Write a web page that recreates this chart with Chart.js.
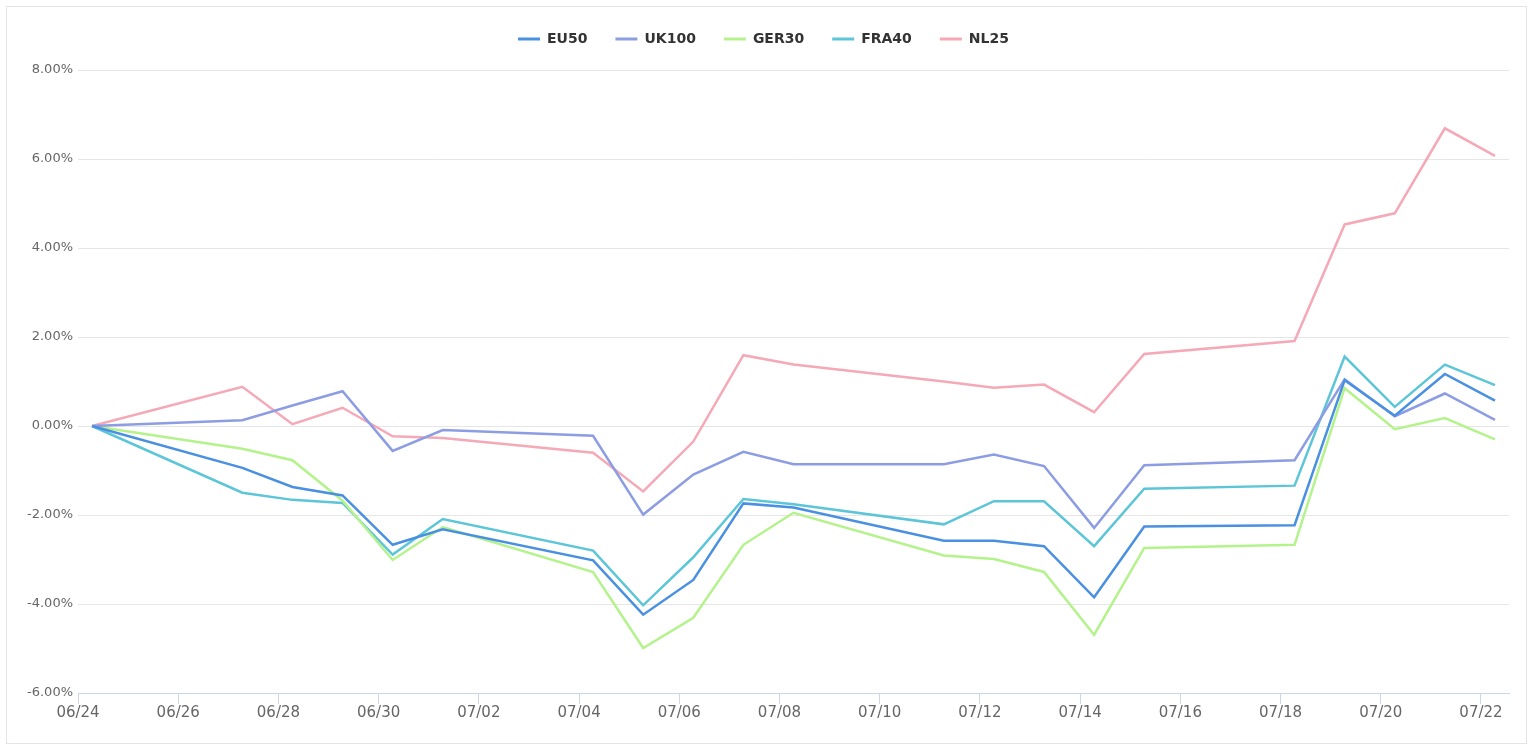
<!DOCTYPE html>
<html>
<head>
<meta charset="utf-8">
<script src="https://cdn.jsdelivr.net/npm/chart.js@4.4.1/dist/chart.umd.min.js"></script>
<style>
  html, body { margin: 0; padding: 0; background: #ffffff; overflow: hidden; }
  #frame { position: absolute; left: 6px; top: 6px; width: 1519px; height: 736px; border: 1px solid #dde7e7; background: #fff; }
  #wrap { position: absolute; left: 0; top: 0; width: 1532px; height: 752px; }
</style>
</head>
<body>
<div id="frame"></div>
<div id="wrap"><canvas id="c" width="1532" height="752"></canvas></div>
<script>
// ---- data ----
const timestamps = [
  '2022-06-24T06:43', '2022-06-27T06:43', '2022-06-28T06:43', '2022-06-29T06:43', '2022-06-30T06:43',
  '2022-07-01T06:43', '2022-07-04T06:43', '2022-07-05T06:43', '2022-07-06T06:43', '2022-07-07T06:43',
  '2022-07-08T06:43', '2022-07-11T06:43', '2022-07-12T06:43', '2022-07-13T06:43', '2022-07-14T06:43',
  '2022-07-15T06:43', '2022-07-18T06:43', '2022-07-19T06:43', '2022-07-20T06:43', '2022-07-21T06:43',
  '2022-07-22T06:43'
];
const seriesNames = ['EU50', 'UK100', 'GER30', 'FRA40', 'NL25'];
const EU50  = [0, -0.94, -1.37, -1.56, -2.67, -2.32, -3.02, -4.24, -3.46, -1.74, -1.83, -2.58, -2.58, -2.70, -3.85, -2.26, -2.23, 1.03, 0.23, 1.17, 0.57];
const UK100 = [0, 0.13, 0.46, 0.78, -0.56, -0.09, -0.22, -1.99, -1.09, -0.58, -0.86, -0.86, -0.64, -0.90, -2.29, -0.88, -0.77, 1.05, 0.22, 0.73, 0.14];
const GER30 = [0, -0.51, -0.77, -1.68, -3.01, -2.27, -3.28, -4.99, -4.31, -2.67, -1.95, -2.91, -2.99, -3.28, -4.69, -2.74, -2.67, 0.85, -0.07, 0.18, -0.30];
const FRA40 = [0, -1.50, -1.66, -1.73, -2.89, -2.09, -2.80, -4.03, -2.95, -1.64, -1.76, -2.21, -1.69, -1.69, -2.70, -1.41, -1.34, 1.56, 0.43, 1.38, 0.92];
const NL25  = [0, 0.88, 0.04, 0.41, -0.23, -0.27, -0.60, -1.47, -0.35, 1.59, 1.38, 1.00, 0.86, 0.93, 0.31, 1.62, 1.91, 4.53, 4.78, 6.69, 6.07];
const xTickLabels = ['06/24', '06/26', '06/28', '06/30', '07/02', '07/04', '07/06', '07/08', '07/10', '07/12', '07/14', '07/16', '07/18', '07/20', '07/22'];
const yTickValues = [-6, -4, -2, 0, 2, 4, 6, 8];
const colors = ['#4a90e2', '#8d9de3', '#b4f38c', '#5cc6d8', '#f5a9b7'];

// ---- helpers ----
const origin = Date.UTC(2022, 5, 24);
const DAY = 86400000;
function dayOf(ts) {
  const [d, t] = ts.split('T');
  const [y, m, dd] = d.split('-').map(Number);
  const [hh, mm] = (t || '00:00').split(':').map(Number);
  return (Date.UTC(y, m - 1, dd, hh, mm) - origin) / DAY;
}
const xs = timestamps.map(dayOf);
const xTickValues = xTickLabels.map(l => dayOf('2022-' + l.replace('/', '-')));
const xMin = xTickValues[0];
const xMax = xs[xs.length - 1] + (xs[0] - xMin);

const allSeries = [EU50, UK100, GER30, FRA40, NL25];
const datasets = allSeries.map((vals, i) => ({
  label: seriesNames[i],
  data: vals.map((v, j) => ({ x: xs[j], y: v })),
  borderColor: colors[i],
  backgroundColor: colors[i],
  borderWidth: 2.5,
  pointRadius: 0,
  pointHoverRadius: 0,
  tension: 0,
  fill: false
}));

Chart.defaults.font.family = "'DejaVu Sans', sans-serif";

const legendSpacer = {
  id: 'legendSpacer',
  beforeInit(chart) {
    const origFit = chart.legend.fit;
    chart.legend.fit = function () {
      origFit.bind(chart.legend)();
      this.height += 14;
    };
  }
};

new Chart(document.getElementById('c'), {
  type: 'line',
  data: { datasets },
  plugins: [legendSpacer],
  options: {
    responsive: false,
    animation: false,
    layout: { padding: { top: 4, right: 23, bottom: 0, left: 18 } },
    plugins: {
      tooltip: { enabled: false },
      legend: {
        display: true,
        position: 'top',
        align: 'center',
        labels: {
          boxWidth: 22,
          boxHeight: 3,
          padding: 28,
          color: '#333333',
          font: { size: 14, weight: 'bold' },
          generateLabels: (chart) => Chart.defaults.plugins.legend.labels.generateLabels(chart).map(l => ({ ...l, lineWidth: 0 }))
        }
      }
    },
    scales: {
      x: {
        type: 'linear',
        min: xMin,
        max: xMax,
        afterBuildTicks: (scale) => { scale.ticks = xTickValues.map(v => ({ value: v })); },
        afterFit: (scale) => { scale.height = 59; },
        ticks: {
          autoSkip: false,
          maxRotation: 0,
          padding: 0,
          color: '#666666',
          font: { size: 15 },
          callback: (v) => { const i = xTickValues.indexOf(v); return i >= 0 ? xTickLabels[i] : ''; }
        },
        grid: { drawOnChartArea: false, drawTicks: true, tickLength: 11, color: '#ccd6eb', lineWidth: 1 },
        border: { display: true, color: '#ccd6eb', width: 1 }
      },
      y: {
        min: yTickValues[0],
        max: yTickValues[yTickValues.length - 1],
        afterBuildTicks: (scale) => { scale.ticks = yTickValues.map(v => ({ value: v })); },
        afterFit: (scale) => { scale.width = 60; },
        ticks: {
          padding: 5,
          color: '#666666',
          font: { size: 13 },
          callback: (v) => v.toFixed(2) + '%'
        },
        grid: { color: '#e6e6e6', lineWidth: 1, drawTicks: false },
        border: { display: false }
      }
    }
  }
});
</script>
</body>
</html>
